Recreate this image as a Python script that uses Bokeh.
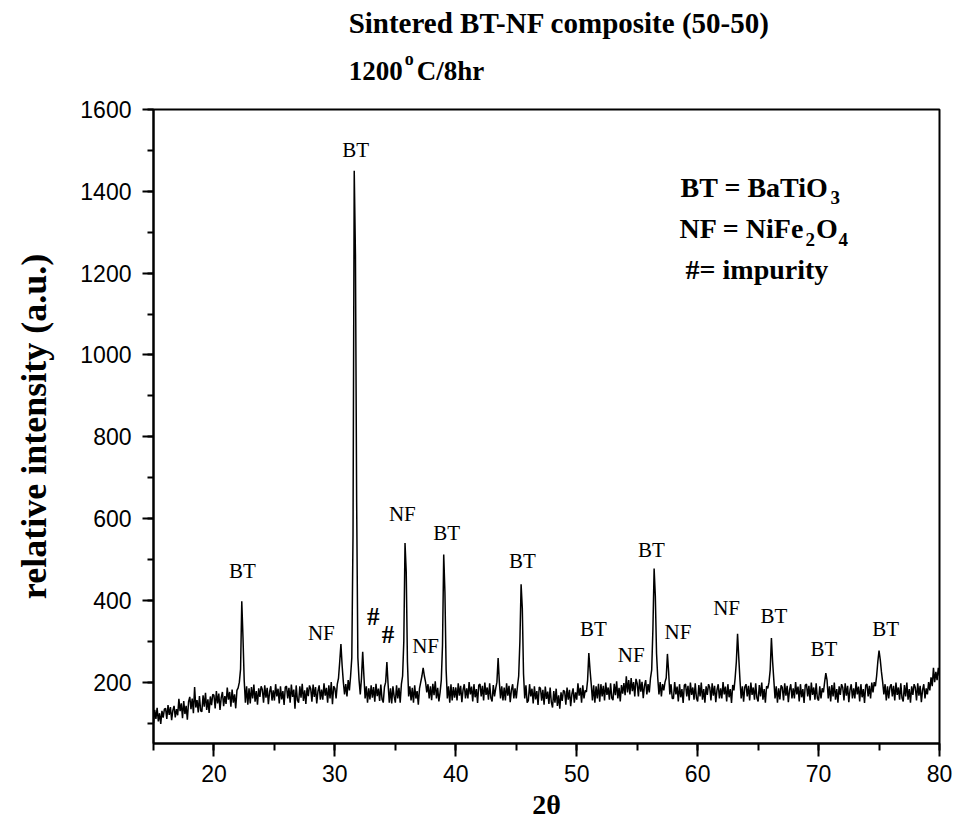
from bokeh.plotting import figure
from bokeh.layouts import column
from bokeh.models import Range1d, FixedTicker, Label, ColumnDataSource
from bokeh.core.properties import value
from bokeh.embed import file_html
from bokeh.resources import INLINE

# ---------------- data ----------------
two_theta_start = 15.0
two_theta_step = 0.1
intensity = [
    100, 132, 110, 137, 104, 124, 98, 130, 113, 134,    # 15
    136, 110, 144, 120, 139, 107, 131, 142, 114, 134,   # 16
    119, 159, 129, 148, 112, 154, 122, 142, 108, 152,   # 17
    164, 134, 160, 124, 188, 138, 156, 126, 166, 130,   # 18
    128, 168, 140, 174, 132, 158, 125, 165, 144, 170,   # 19
    168, 136, 178, 148, 172, 132, 162, 176, 141, 166,   # 20
    147, 187, 157, 176, 140, 182, 150, 170, 136, 180,   # 21
    186, 200, 232, 398, 310, 205, 150, 190, 145, 185,   # 22
    148, 188, 160, 194, 152, 178, 145, 185, 164, 190,   # 23
    182, 150, 192, 162, 186, 146, 176, 190, 155, 180,   # 24
    155, 195, 165, 184, 148, 190, 158, 178, 144, 188,   # 25
    190, 160, 186, 150, 194, 164, 182, 135, 192, 156,   # 26
    150, 190, 162, 196, 154, 180, 147, 187, 166, 192,   # 27
    184, 152, 194, 164, 188, 148, 178, 192, 157, 182,   # 28
    157, 197, 167, 186, 150, 192, 160, 200, 146, 190,   # 29
    185, 160, 195, 210, 250, 293, 240, 200, 170, 195,   # 30
    165, 205, 180, 215, 260, 560, 1450, 1245, 640, 260, # 31
    205, 170, 210, 274, 215, 160, 190, 150, 185, 158,   # 32
    192, 162, 188, 152, 196, 166, 184, 154, 194, 158,   # 33
    150, 188, 200, 249, 195, 150, 185, 148, 190, 165,   # 34
    150, 192, 160, 186, 150, 195, 215, 300, 540, 470,   # 35
    250, 165, 190, 155, 186, 150, 192, 160, 178, 145,   # 36
    185, 200, 215, 235, 215, 200, 175, 195, 160, 190,   # 37
    156, 196, 168, 202, 160, 186, 153, 175, 205, 290,   # 38
    512, 420, 230, 160, 190, 150, 195, 155, 188, 162,   # 39
    187, 155, 197, 167, 191, 151, 181, 195, 160, 185,   # 40
    160, 200, 170, 189, 153, 195, 163, 183, 149, 193,   # 41
    195, 165, 191, 155, 199, 169, 187, 157, 197, 161,   # 42
    153, 193, 165, 185, 200, 259, 200, 160, 190, 155,   # 43
    187, 155, 197, 167, 191, 151, 181, 195, 160, 185,   # 44
    160, 190, 215, 300, 439, 380, 220, 160, 192, 150,   # 45
    155, 195, 165, 184, 148, 190, 158, 178, 144, 188,   # 46
    185, 155, 181, 145, 189, 159, 177, 147, 187, 151,   # 47
    138, 178, 150, 184, 142, 168, 135, 175, 154, 180,   # 48
    177, 145, 187, 157, 181, 141, 171, 185, 150, 175,   # 49
    157, 197, 167, 186, 150, 192, 160, 180, 176, 205,   # 50
    271, 230, 195, 155, 192, 150, 190, 160, 196, 152,   # 51
    195, 165, 191, 155, 199, 169, 187, 157, 197, 161,   # 52
    156, 196, 168, 202, 160, 186, 153, 193, 172, 198,   # 53
    168, 214, 175, 205, 170, 210, 178, 200, 165, 208,   # 54
    197, 165, 207, 177, 201, 161, 191, 205, 170, 195,   # 55
    175, 210, 230, 330, 478, 410, 270, 210, 170, 200,   # 56
    165, 195, 180, 200, 210, 269, 225, 170, 195, 160,   # 57
    160, 200, 170, 189, 153, 195, 163, 183, 149, 193,   # 58
    195, 165, 191, 155, 199, 169, 187, 157, 197, 161,   # 59
    153, 193, 165, 199, 157, 183, 150, 190, 169, 195,   # 60
    187, 155, 197, 167, 191, 151, 181, 195, 160, 185,   # 61
    160, 200, 170, 189, 153, 195, 163, 183, 149, 193,   # 62
    180, 210, 250, 318, 260, 205, 160, 190, 152, 188,   # 63
    195, 165, 191, 155, 199, 169, 187, 157, 197, 161,   # 64
    153, 193, 165, 199, 157, 183, 150, 190, 185, 200,   # 65
    230, 308, 250, 205, 160, 190, 150, 185, 158, 192,   # 66
    187, 155, 197, 167, 191, 151, 181, 195, 160, 185,   # 67
    160, 200, 170, 189, 153, 195, 163, 183, 149, 193,   # 68
    195, 165, 191, 155, 199, 169, 187, 157, 197, 161,   # 69
    155, 190, 160, 185, 175, 200, 222, 205, 160, 190,   # 70
    153, 193, 165, 199, 157, 183, 150, 190, 169, 195,   # 71
    187, 155, 197, 167, 191, 151, 181, 195, 160, 185,   # 72
    160, 200, 170, 189, 153, 195, 163, 183, 149, 193,   # 73
    195, 165, 191, 160, 199, 175, 200, 190, 215, 250,   # 74
    277, 255, 225, 200, 170, 195, 155, 190, 160, 188,   # 75
    195, 165, 191, 155, 199, 169, 187, 157, 197, 161,   # 76
    153, 193, 165, 199, 157, 183, 150, 190, 169, 195,   # 77
    187, 155, 197, 167, 191, 151, 181, 195, 160, 185,   # 78
    170, 200, 180, 212, 190, 235, 200, 225, 205, 235,   # 79
    215,                                                # 80
]
two_theta = [round(two_theta_start + i * two_theta_step, 2) for i in range(len(intensity))]

peak_text = ["BT", "BT", "NF", "NF", "NF", "BT", "BT", "BT", "NF", "BT", "NF", "NF", "BT", "BT", "BT"]
peak_x = [22.35, 31.72, 28.88, 35.58, 37.5, 39.24, 45.5, 51.37, 54.51, 56.17, 58.37, 62.39, 66.3, 70.44, 75.54]
peak_y = [471, 1501, 320, 610, 288, 565, 496, 329, 267, 524, 323, 381, 361, 280, 329]

impurity_x = [33.18, 34.39]
impurity_y = [361, 316]

x_ticks = [20, 30, 40, 50, 60, 70, 80]
x_minor = [15, 20, 25, 30, 35, 40, 45, 50, 55, 60, 65, 70, 75, 80]
y_ticks = [200, 400, 600, 800, 1000, 1200, 1400, 1600]
y_minor = [100, 200, 300, 400, 500, 600, 700, 800, 900, 1000, 1100, 1200, 1300, 1400, 1500, 1600]

HEAD_H = 90
FRAME_L = 152.8
FRAME_R = 939.0

# ---------------- heading strip (titles); its frame is aligned with the main frame ----------------
head = figure(width=957, height=HEAD_H, output_backend="svg", toolbar_location=None,
              x_range=Range1d(FRAME_L, FRAME_R), y_range=Range1d(0, HEAD_H),
              x_axis_type=None, y_axis_type=None, min_border=0,
              min_border_left=153, min_border_right=18)
head.grid.visible = False
head.outline_line_color = None
head.background_fill_color = "white"
head.border_fill_color = "white"


def head_text(txt, px, py, size):
    head.add_layout(Label(x=px, y=HEAD_H - py, text=txt, text_font="Liberation Serif",
                          text_font_size=size, text_font_style="bold",
                          text_align="left", text_baseline="middle", text_color="black"))


head_text("Sintered BT-NF composite (50-50)", 348, 22.5, "29px")
head_text("1200", 348, 70, "27px")
head_text("o", 404, 58, "18px")
head_text("C/8hr", 416, 70, "27px")

# ---------------- main figure ----------------
p = figure(width=957, height=840 - HEAD_H, output_backend="svg", toolbar_location=None,
           x_range=Range1d(15, 80), y_range=Range1d(50, 1600),
           min_border_left=153, min_border_right=18, min_border_top=109 - HEAD_H,
           min_border_bottom=97)
p.background_fill_color = "white"
p.border_fill_color = "white"
p.grid.visible = False
p.outline_line_color = "black"
p.outline_line_width = 2

p.line(two_theta, intensity, line_color="black", line_width=1.5)

src = ColumnDataSource(dict(x=peak_x, y=peak_y, t=peak_text))
p.text(x="x", y="y", text="t", source=src, text_font=value("Liberation Serif"),
       text_font_size="21px", text_align="center", text_baseline="middle", text_color="black")
src2 = ColumnDataSource(dict(x=impurity_x, y=impurity_y, t=["#", "#"]))
p.text(x="x", y="y", text="t", source=src2, text_font=value("Liberation Serif"),
       text_font_size="25px", text_font_style="bold", text_align="center",
       text_baseline="middle", text_color="black")

for ax in (p.xaxis[0], p.yaxis[0]):
    ax.axis_line_width = 2
    ax.major_tick_line_width = 2
    ax.minor_tick_line_width = 2
    ax.major_tick_in = 0
    ax.minor_tick_in = 0
    ax.major_label_text_font = "Liberation Sans"
    ax.major_label_text_font_size = "23px"
    ax.major_label_text_color = "black"
    ax.axis_label_text_font = "Liberation Serif"
    ax.axis_label_text_font_style = "bold"
    ax.axis_label_text_color = "black"

p.xaxis.ticker = FixedTicker(ticks=x_ticks, minor_ticks=x_minor)
p.yaxis.ticker = FixedTicker(ticks=y_ticks, minor_ticks=y_minor)
p.xaxis.major_tick_out = 13
p.xaxis.minor_tick_out = 7
p.yaxis.major_tick_out = 11
p.yaxis.minor_tick_out = 6
p.xaxis.major_label_standoff = 8
p.yaxis.major_label_standoff = 11
p.xaxis.axis_label = "2θ"
p.xaxis.axis_label_text_font_size = "28px"
p.xaxis.axis_label_standoff = 4
p.yaxis.axis_label = "relative intensity (a.u.)"
p.yaxis.axis_label_text_font_size = "36px"
p.yaxis.axis_label_standoff = 23


# legend block inside the plot, placed by pixel position on the page
def dx(px):
    return 15 + (px - FRAME_L) / 12.095


def dy(py):
    return 50 + (742.7 - py) / 0.4091


def add_text(txt, px, py, size):
    p.add_layout(Label(x=dx(px), y=dy(py), text=txt, text_font="Liberation Serif",
                       text_font_size=size, text_font_style="bold",
                       text_align="left", text_baseline="middle", text_color="black"))


add_text("BT = BaTiO", 680, 186.5, "28px")
add_text("3", 830, 197, "19px")
add_text("NF = NiFe", 679, 228, "28px")
add_text("2", 805, 239, "19px")
add_text("O", 815.5, 228, "28px")
add_text("4", 838, 239, "19px")
add_text("#= impurity", 685, 269, "28px")

layout = column(head, p, spacing=0)
open("out.html", "w").write(file_html(layout, INLINE))
